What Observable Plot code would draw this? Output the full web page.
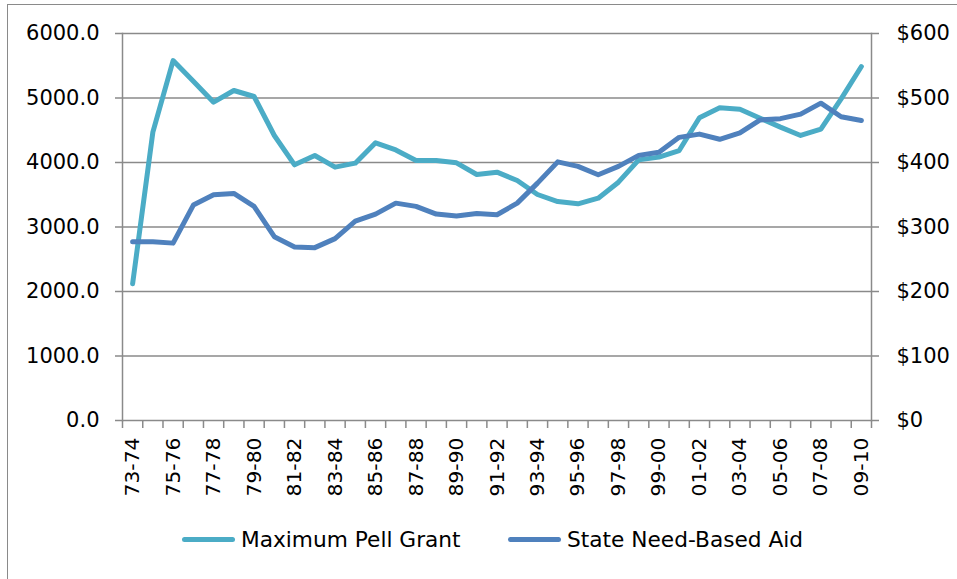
<!DOCTYPE html>
<html>
<head>
<meta charset="utf-8">
<script src="https://cdn.jsdelivr.net/npm/d3@7"></script>
<script src="https://cdn.jsdelivr.net/npm/@observablehq/plot@0.6"></script>
<style>
  html, body { margin: 0; padding: 0; background: #fff; width: 957px; height: 579px; overflow: hidden; }
  #wrap { position: relative; width: 957px; height: 579px; font-family: "DejaVu Sans", sans-serif; }
  #border { position: absolute; left: 7px; top: 4px; width: 1000px; height: 700px; border-top: 1.5px solid #8a8a8a; border-left: 1.5px solid #8a8a8a; }
  #chart { position: absolute; left: 0; top: 0; }
  .leg { position: absolute; top: 527px; display: flex; align-items: center; font-size: 21.7px; color: #000; white-space: nowrap; }
  .leg .sw { width: 53px; height: 5px; border-radius: 3px; margin-right: 6px; }
</style>
</head>
<body>
<div id="wrap">
  <div id="border"></div>
  <div id="chart"></div>
  <div id="legend"></div>
</div>
<script>
const categories = ["73-74","74-75","75-76","76-77","77-78","78-79","79-80","80-81","81-82","82-83","83-84","84-85","85-86","86-87","87-88","88-89","89-90","90-91","91-92","92-93","93-94","94-95","95-96","96-97","97-98","98-99","99-00","00-01","01-02","02-03","03-04","04-05","05-06","06-07","07-08","08-09","09-10"];
const pellGrant = [2120,4470,5580,5260,4935,5116,5023,4419,3964,4109,3928,3990,4305,4195,4031,4031,3995,3814,3850,3721,3504,3395,3359,3447,3695,4041,4083,4186,4693,4848,4827,4687,4548,4419,4517,4987,5488];
const stateAid = [277,277,275,334,350,352,332,285,269,268,282,309,320,337,332,320,317,321,319,337,368,401,394,381,394,411,416,439,444,436,446,466,468,475,492,471,465];
const leftTicks = [0,1000,2000,3000,4000,5000,6000];
const rightTickLabels = ["$0","$100","$200","$300","$400","$500","$600"];
const seriesNames = ["Maximum Pell Grant","State Need-Based Aid"];
const seriesColors = ["#4BACC6","#4F81BD"];

const rows = [];
categories.forEach((c, i) => {
  rows.push({i, cat: c, series: seriesNames[0], v: pellGrant[i]});
  rows.push({i, cat: c, series: seriesNames[1], v: stateAid[i] * 10});
});
const boundaries = d3.range(categories.length + 1).map(i => i - 0.5);
const labelIdx = d3.range(0, categories.length, 2);
const grid = "#8a8a8a";

const chart = Plot.plot({
  width: 957,
  height: 510,
  marginLeft: 122,
  marginRight: 86,
  marginTop: 33,
  marginBottom: 90,
  style: {fontFamily: "DejaVu Sans, sans-serif", fontSize: "20px", color: "#000", background: "transparent", overflow: "visible"},
  x: {type: "linear", domain: [-0.5, categories.length - 0.5]},
  y: {domain: [0, 6000]},
  color: {domain: seriesNames, range: seriesColors},
  marks: [
    Plot.ruleY(leftTicks, {stroke: grid, strokeWidth: 1.5, insetLeft: -7, insetRight: -8}),
    Plot.frame({anchor: "left", stroke: grid, strokeWidth: 1.5}),
    Plot.frame({anchor: "right", stroke: grid, strokeWidth: 1.5}),
    Plot.axisX({ticks: boundaries, tickFormat: () => "", tickSize: 8, stroke: grid, strokeWidth: 1.5, label: null}),
    Plot.axisX({ticks: labelIdx, tickFormat: i => categories[i], tickSize: 0, tickPadding: 17, tickRotate: -90, fontSize: 20.3, label: null}),
    Plot.axisY({anchor: "left", ticks: leftTicks, tickFormat: d => d.toFixed(1), tickSize: 0, tickPadding: 23, fontSize: 21, label: null}),
    Plot.axisY({anchor: "right", ticks: leftTicks, tickFormat: d => rightTickLabels[leftTicks.indexOf(d)], tickSize: 0, tickPadding: 25, fontSize: 21, label: null}),
    Plot.line(rows, {x: "i", y: "v", z: "series", stroke: "series", strokeWidth: 5, strokeLinejoin: "round", strokeLinecap: "round"})
  ]
});
document.getElementById("chart").appendChild(chart);

const leg = document.getElementById("legend");
const legLeft = [182, 508];
seriesNames.forEach((name, k) => {
  const d = document.createElement("div");
  d.className = "leg";
  d.style.left = legLeft[k] + "px";
  d.innerHTML = `<span class="sw" style="background:${seriesColors[k]}"></span><span>${name}</span>`;
  leg.appendChild(d);
});
</script>
</body>
</html>
